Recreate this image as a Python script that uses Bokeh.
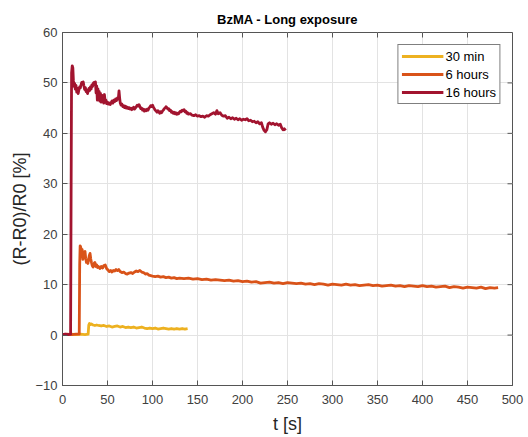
from bokeh.plotting import figure
from bokeh.models import Range1d, FixedTicker, Legend, LegendItem
from bokeh.embed import file_html
from bokeh.resources import INLINE

# ---- data (t [s], (R-R0)/R0 [%]) ----
series_names = ["30 min", "6 hours", "16 hours"]
series_colors = ["#EDB120", "#D95319", "#A2142F"]

pts_30min = [(0,0.1),(5,0.1),(10,0.2),(15,0.1),(20,0.2),(25,0.1),(28.5,0.2),(29.2,2.0),(30,2.3),(31,2.1),(32,2.2),
             (34,2.0),(36,1.9),(38,2.0),(40,1.9),(43,1.8),(46,1.9),(49,1.7),(52,1.8),(55,1.6),(58,1.7),(61,1.8),
             (64,1.6),(67,1.7),(70,1.5),(73,1.6),(76,1.5),(79,1.6),(82,1.4),(85,1.5),(88,1.6),(91,1.4),(94,1.3),
             (97,1.4),(100,1.3),(103,1.4),(106,1.2),(109,1.3),(112,1.4),(115,1.3),(118,1.2),(121,1.3),(124,1.2),
             (127,1.3),(130,1.2),(133,1.3),(136,1.2),(139,1.3)]

pts_6h = [(0,0.1),(5,0.2),(10,0.1),(15,0.2),(18.6,0.2),(19.1,14),(19.6,17.7),(20.3,17.4),(21,15.6),(21.8,17.0),
          (22.6,15.0),(23.4,15.6),(24.2,16.4),(25,16.6),(25.8,15.2),(26.6,14.4),(27.4,14.9),(28.2,14.2),(29,15.0),
          (29.8,15.8),(30.6,16.2),(31.4,15.1),(32.2,14.4),(33,13.8),(34,13.5),(35,14.2),(36,14.4),(37,13.6),
          (38,13.9),(39,13.4),(40,13.6),(41.5,13.2),(43,13.6),(44.5,13.3),(46,13.8),(47.5,13.9),(49,13.2),
          (50.5,12.9),(52,12.6),(53.5,12.8),(55,12.5),(56.5,12.8),(58,12.7),(59.5,13.0),(61,12.8),(62.5,13.0),
          (64,12.6),(66,12.4),(68,12.5),(70,12.2),(72,12.1),(74,12.3),(76,12.4),(78,12.2),(80,12.5),(82,12.7),
          (84,12.6),(86,12.8),(88,12.5),(90,12.4),(92,12.1),(94,12.2),(96,11.9),(98,11.8),(100,11.7),(103,11.6),
          (106,11.7),(109,11.5),(112,11.6),(115,11.4),(118,11.5),(121,11.3),(124,11.4),(127,11.2),(130,11.3),
          (135,11.2),(140,11.3),(145,11.1),(150,11.2),(155,11.0),(160,11.1),(165,10.9),(170,11.0),(175,10.9),
          (180,10.8),(185,10.9),(190,10.7),(195,10.8),(200,10.6),(205,10.7),(210,10.5),(215,10.6),(220,10.3),
          (225,10.4),(230,10.5),(235,10.3),(240,10.4),(245,10.2),(250,10.4),(255,10.3),(260,10.2),(265,10.3),
          (270,10.1),(275,10.2),(280,10.0),(285,10.2),(290,10.1),(295,9.9),(300,10.1),(305,10.0),(310,9.9),
          (315,10.1),(320,9.9),(325,10.0),(330,9.8),(335,9.9),(340,10.0),(345,9.8),(350,9.9),(355,9.7),(360,9.8),
          (365,9.9),(370,9.7),(375,9.8),(380,9.6),(385,9.8),(390,9.7),(395,9.6),(400,9.8),(405,9.6),(410,9.7),
          (415,9.5),(420,9.6),(425,9.7),(430,9.4),(435,9.6),(440,9.5),(445,9.3),(450,9.5),(455,9.4),(460,9.3),
          (465,9.5),(470,9.2),(475,9.4),(480,9.3),(484,9.4)]

pts_16h = [(0,0.1),(3,0.2),(6,0.1),(9,0.2),(9.6,30),(10.1,52),(10.8,53.4),(11.5,53.0),(12.1,50.5),(12.8,49.3),
           (13.5,49.9),(14.2,48.8),(15,49.5),(15.8,48.2),(16.6,48.9),(17.4,47.9),(18.2,48.6),(19,49.2),(19.8,49.0),
           (20.6,49.6),(21.4,50.1),(22.2,49.8),(23,50.2),(23.8,49.4),(24.6,48.7),(25.4,49.1),(26.2,48.3),(27,48.6),
           (27.8,47.9),(28.6,48.4),(29.4,48.9),(30.2,48.5),(31,49.2),(31.8,48.8),(32.6,49.6),(33.4,49.3),(34.2,49.9),
           (35,50.1),(35.8,49.7),(36.6,50.2),(37.3,48.0),(38,49.4),(38.7,46.6),(39.4,48.8),(40.1,46.9),(40.8,48.3),
           (41.5,46.4),(42.2,47.9),(42.9,46.2),(43.6,47.6),(44.3,46.5),(45,47.4),(45.8,46.0),(46.6,47.7),(47.4,46.3),
           (48.2,46.6),(49,45.9),(50,46.2),(51,45.8),(52,46.0),(53,45.7),(54,46.1),(55,46.4),(56,46.0),(57,46.6),
           (58,46.3),(59,46.8),(60,46.5),(61,47.0),(62,46.8),(62.8,48.4),(63.5,47.0),(64.2,46.0),(65,45.6),(66,45.8),
           (67,45.3),(68,45.5),(69,45.1),(70,45.4),(71,45.0),(72,45.2),(73,44.9),(74,45.1),(75,44.8),(76,45.0),
           (77,44.7),(78,44.9),(79,45.2),(80,44.8),(81,45.0),(82,45.3),(83,45.6),(84,45.4),(85,45.7),(86,45.3),
           (87,44.9),(88,45.0),(89,44.6),(90,44.8),(91,44.4),(92,44.7),(93,44.5),(94,44.8),(95,44.6),(96,45.0),
           (97,45.2),(98,45.5),(99,45.3),(100,45.6),(101,45.2),(102,44.9),(103,44.6),(104,44.4),(105,44.2),
           (106,44.5),(107,44.3),(108,44.0),(109,44.3),(110,44.1),(111,44.4),(112,44.6),(113,44.9),(114,45.0),
           (115,45.3),(116,45.1),(117,44.8),(118,44.9),(119,44.5),(120,44.6),(121,44.2),(122,44.3),(123,44.0),
           (124,44.2),(125,43.9),(126,44.1),(127,43.8),(128,44.0),(129,43.9),(130,44.2),(131,44.4),(132,44.3),
           (133,44.6),(134,44.5),(135,44.7),(136,44.3),(137,44.4),(138,44.0),(139,44.1),(140,43.8),(142,43.9),
           (144,43.6),(146,43.5),(148,43.7),(150,43.4),(152,43.5),(154,43.3),(156,43.4),(158,43.2),(160,43.5),
           (162,43.4),(164,43.7),(166,43.9),(168,44.1),(170,43.8),(171.5,44.5),(173,43.9),(175,44.1),(177,43.6),
           (179,43.4),(181,43.5),(183,43.0),(185,43.2),(187,42.9),(189,43.1),(191,42.8),(193,43.0),(195,42.7),
           (197,42.9),(199,42.6),(201,42.8),(203,42.7),(205,42.9),(207,42.5),(209,42.6),(211,42.3),(213,42.4),
           (215,42.1),(217,42.3),(219,41.9),(221,42.1),(222.5,41.2),(224,40.6),(225.5,40.3),(227,40.7),(228.5,41.9),
           (230,42.1),(232,41.8),(234,42.0),(236,41.7),(238,41.9),(240,41.6),(242,41.8),(243.5,41.1),(245,40.7),
           (246.5,40.9),(248,40.6)]

x_ticks = [0, 50, 100, 150, 200, 250, 300, 350, 400, 450, 500]
y_ticks = [-10, 0, 10, 20, 30, 40, 50, 60]
x_min, x_max = 0, 500
y_min, y_max = -10, 60

FONT = "Liberation Sans"
TXT = "#262626"
AX = "#555555"

p = figure(width=528, height=437, x_range=Range1d(x_min, x_max), y_range=Range1d(y_min, y_max),
           output_backend="svg", toolbar_location=None,
           min_border_left=62, min_border_right=16, min_border_top=32, min_border_bottom=52)

p.title.text = "BzMA - Long exposure"
p.title.align = "center"
p.title.text_font = FONT
p.title.text_font_size = "13px"
p.title.text_font_style = "bold"
p.title.text_color = "#000000"
p.title.standoff = 11

p.outline_line_color = AX
p.outline_line_width = 1
p.background_fill_color = "white"
p.border_fill_color = "white"

for ax, ticks in ((p.xaxis[0], x_ticks), (p.yaxis[0], y_ticks)):
    ax.ticker = FixedTicker(ticks=ticks)
    ax.major_tick_in = 5
    ax.major_tick_out = 0
    ax.minor_tick_line_color = None
    ax.axis_line_color = AX
    ax.major_tick_line_color = AX
    ax.major_label_text_font = FONT
    ax.major_label_text_font_size = "13px"
    ax.major_label_text_color = "#404040"
    ax.axis_label_text_font = FONT
    ax.axis_label_text_font_size = "18px"
    ax.axis_label_text_font_style = "normal"
    ax.axis_label_text_color = TXT

p.xaxis[0].axis_label = "t [s]"
p.xaxis[0].major_label_standoff = 9
p.xaxis[0].axis_label_standoff = 7
p.yaxis[0].axis_label = "(R-R0)/R0 [%]"
p.yaxis[0].major_label_standoff = 5
p.yaxis[0].axis_label_standoff = 2

p.xgrid.ticker = FixedTicker(ticks=x_ticks)
p.ygrid.ticker = FixedTicker(ticks=y_ticks)
p.xgrid.grid_line_color = "#e3e3e3"
p.ygrid.grid_line_color = "#e3e3e3"

# mirrored inward ticks on top and right edges (box on), lengths ~5 px
tick_dy = 5 / 5.04
tick_dx = 5 / 0.9
p.segment(x0=x_ticks, y0=[y_max] * len(x_ticks), x1=x_ticks, y1=[y_max - tick_dy] * len(x_ticks),
          line_color=AX, line_width=1)
p.segment(x0=[x_max] * len(y_ticks), y0=y_ticks, x1=[x_max - tick_dx] * len(y_ticks), y1=y_ticks,
          line_color=AX, line_width=1)

renderers = []
for pts, color in zip((pts_30min, pts_6h, pts_16h), series_colors):
    t = [a for a, b in pts]
    v = [b for a, b in pts]
    r = p.line(t, v, line_color=color, line_width=2.8, line_join="round")
    renderers.append(r)

legend = Legend(items=[LegendItem(label=n, renderers=[r]) for n, r in zip(series_names, renderers)],
                location="top_right", margin=12, padding=3, spacing=2,
                glyph_width=42, glyph_height=16, label_height=16, label_standoff=2,
                label_text_font=FONT, label_text_font_size="13px", label_text_color="#000000",
                border_line_color="#000000", border_line_width=1,
                background_fill_color="white", background_fill_alpha=1)
p.add_layout(legend)

open("out.html", "w").write(file_html(p, INLINE))
